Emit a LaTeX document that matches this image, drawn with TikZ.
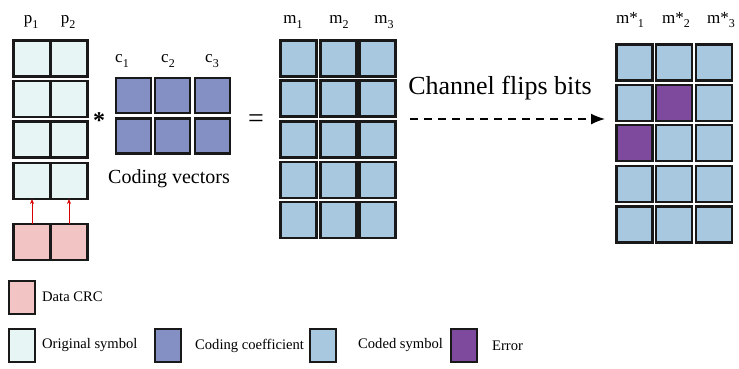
\documentclass[tikz,border=0pt]{standalone}
\usepackage{fontspec}
\setmainfont{Liberation Serif}
\usetikzlibrary{arrows.meta}
\definecolor{origc}{HTML}{E8F5F5}
\definecolor{crcc}{HTML}{F2C4C4}
\definecolor{coefc}{HTML}{8490C4}
\definecolor{codedc}{HTML}{A8C8E0}
\definecolor{errc}{HTML}{7E4A9E}
\newcommand{\lowsub}[1]{\raisebox{-4.5pt}{\fontsize{12}{12}\selectfont #1}}
\tikzset{
  cell/.style={draw=black!90, line width=2.2pt, minimum width=36pt, minimum height=36pt, inner sep=0pt, outer sep=0pt},
  pcell/.style={cell, minimum width=37pt, fill=origc},
  crccell/.style={cell, minimum width=37pt, fill=crcc},
  coefcell/.style={cell, minimum width=35pt, minimum height=35pt, fill=coefc},
  codedcell/.style={cell, fill=codedc},
  errcell/.style={cell, fill=errc},
  legbox/.style={draw=black!90, line width=2pt, minimum width=26pt, minimum height=33pt, inner sep=0pt},
  legtext/.style={anchor=west, inner sep=0pt, font=\fontsize{14.6}{15}\selectfont},
  collabel/.style={inner sep=0pt, font=\fontsize{17}{17}\selectfont},
  crcarrow/.style={draw=red!85!black, line width=0.8pt, -{Stealth[length=5pt,width=4pt]}},
}
\begin{document}
\begin{tikzpicture}[x=1pt,y=-1pt]
\useasboundingbox (0,0) rectangle (739,368);
% original symbols
\foreach \r/\y in {1/58.5,2/99,3/139.5,4/181}{
  \node[pcell] (p\r a) at (32,\y) {};
  \node[pcell] (p\r b) at (69,\y) {};
}
\node[crccell] (crca) at (32,242) {};
\node[crccell] (crcb) at (69,242) {};
\draw[crcarrow] (crca.north) -- (p4a.south);
\draw[crcarrow] (crcb.north) -- (p4b.south);
\node[collabel] (lp1) at (31,22) {p\lowsub{1}};
\node[collabel] (lp2) at (68,22) {p\lowsub{2}};
% star
\node[inner sep=0pt, font=\fontsize{24}{24}\selectfont\bfseries] (star) at (99,121) {*};
% coding vectors
\foreach \c/\x in {1/133.5,2/172.5,3/212.5}{
  \node[coefcell] (c1\c) at (\x,95.5) {};
  \node[coefcell] (c2\c) at (\x,136) {};
}
\node[collabel] (lc1) at (122,61) {c\lowsub{1}};
\node[collabel] (lc2) at (168,61) {c\lowsub{2}};
\node[collabel] (lc3) at (212,61) {c\lowsub{3}};
\node[inner sep=0pt, font=\fontsize{20}{20}\selectfont] (cvlab) at (169,179) {Coding vectors};
% equals
\node[inner sep=0pt, font=\fontsize{28}{28}\selectfont] (eq) at (256,121) {=};
% coded symbols
\foreach \r/\y in {1/58.5,2/98.5,3/139.5,4/180,5/220}{
  \foreach \c/\x in {1/298.5,2/338.5,3/377.5}{
    \node[codedcell] (m\r\c) at (\x,\y) {};
  }
}
\node[collabel] (lm1) at (293,22) {m\lowsub{1}};
\node[collabel] (lm2) at (339,22) {m\lowsub{2}};
\node[collabel] (lm3) at (384,22) {m\lowsub{3}};
% channel
\node[inner sep=0pt, font=\fontsize{26}{26}\selectfont] (chan) at (500,88) {Channel flips bits};
\coordinate (arrS) at (410,119);
\coordinate (arrE) at (605,119);
\draw[line width=1.5pt, dash pattern=on 8pt off 6pt, -{Latex[length=14pt,width=11pt]}] (arrS) -- (arrE);
% received symbols
\foreach \r/\y in {1/62.5,2/103,3/143,4/184,5/224.5}{
  \foreach \c/\x in {1/634.5,2/674,3/714}{
    \node[codedcell] (s\r\c) at (\x,\y) {};
  }
}
\node[errcell] at (s22) {};
\node[errcell] at (s31) {};
\node[collabel] (ls1) at (630,20) {m*\lowsub{1}};
\node[collabel] (ls2) at (676,20) {m*\lowsub{2}};
\node[collabel] (ls3) at (721,20) {m*\lowsub{3}};
% legend
\node[legbox, fill=crcc] (lg1) at (21.5,297) {};
\node[legtext] (lt1) at (42,297) {Data CRC};
\node[legbox, fill=origc] (lg2) at (21.5,345.5) {};
\node[legtext] (lt2) at (42,345.5) {Original symbol};
\node[legbox, fill=coefc] (lg3) at (168,345.5) {};
\node[legtext] (lt3) at (195,345.5) {Coding coefficient};
\node[legbox, fill=codedc] (lg4) at (322.5,345.5) {};
\node[legtext] (lt4) at (358,345.5) {Coded symbol};
\node[legbox, fill=errc] (lg5) at (464,345.5) {};
\node[legtext] (lt5) at (492,345.5) {Error};
\end{tikzpicture}
\end{document}
